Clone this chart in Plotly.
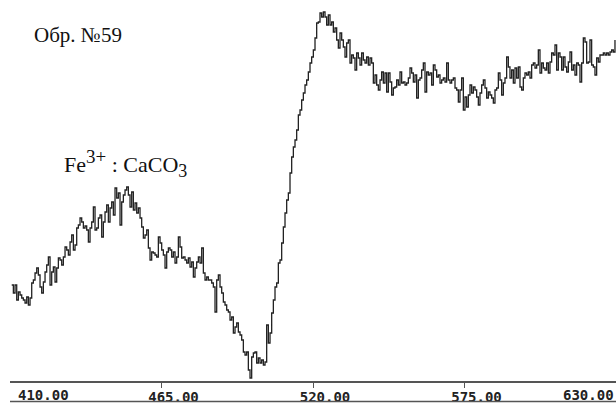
import plotly.graph_objects as go

# EPR-like spectrum, sample No.59 (Fe3+ : CaCO3); uniform field sampling
field_start = 410.62
field_step = 0.605
signal = [
    96, 88, 96, 81, 89, 86, 83, 81, 78, 84,
    76, 83, 98, 101, 108, 113, 106, 94, 88, 99,
    109, 116, 124, 96, 109, 114, 99, 113, 123, 121,
    116, 124, 134, 131, 126, 139, 146, 131, 136, 153,
    156, 163, 159, 153, 155, 151, 139, 153, 159, 174,
    151, 153, 163, 166, 144, 159, 169, 176, 159, 173,
    179, 166, 193, 183, 188, 156, 179, 186, 191, 194,
    186, 174, 189, 171, 178, 168, 173, 163, 154, 143,
    146, 151, 133, 121, 129, 128, 126, 124, 144, 138,
    131, 126, 113, 129, 133, 131, 124, 129, 118, 124,
    144, 134, 123, 124, 121, 118, 123, 114, 119, 104,
    113, 119, 124, 118, 133, 108, 101, 104, 101, 101,
    98, 94, 69, 101, 106, 94, 88, 79, 76, 71,
    69, 61, 64, 48, 54, 58, 49, 46, 41, 29,
    26, 29, 11, 3, 24, 28, 29, 18, 23, 18,
    21, 16, 19, 56, 38, 48, 68, 81, 94, 98,
    118, 121, 138, 154, 168, 181, 188, 208, 224, 234,
    241, 251, 266, 271, 281, 288, 296, 301, 309, 318,
    324, 331, 343, 358, 359, 368, 364, 369, 364, 356,
    366, 356, 359, 349, 353, 341, 333, 348, 341, 334,
    324, 338, 341, 318, 326, 323, 311, 328, 323, 316,
    328, 321, 318, 324, 316, 323, 318, 298, 306, 296,
    291, 301, 309, 298, 308, 289, 308, 299, 286, 293,
    294, 301, 296, 309, 298, 299, 296, 298, 303, 313,
    308, 299, 306, 283, 301, 303, 311, 318, 289, 309,
    306, 308, 296, 316, 311, 304, 306, 298, 301, 303,
    299, 318, 301, 298, 301, 303, 293, 291, 279, 291,
    303, 271, 284, 274, 286, 296, 288, 294, 291, 284,
    276, 288, 296, 301, 293, 283, 289, 286, 283, 278,
    291, 293, 308, 301, 286, 298, 303, 324, 314, 303,
    311, 298, 313, 303, 314, 294, 291, 303, 308, 306,
    309, 303, 316, 318, 313, 316, 331, 308, 318, 313,
    311, 318, 308, 319, 328, 326, 336, 311, 328, 324,
    311, 324, 314, 309, 319, 329, 311, 316, 306, 318,
    316, 299, 318, 343, 339, 318, 319, 341, 316, 314,
    306, 323, 319, 326, 326, 328, 326, 328, 326, 329,
    331, 329, 341,
]
field = [field_start + i * field_step for i in range(len(signal))]

tick_values = [465, 520, 575]
tick_labels = ["465.00", "520.00", "575.00"]
edge_labels = [(410, "410.00"), (630, "630.00")]

title_text = "Обр. №59"
compound_text = ('Fe<sup><span style="font-size:19px">3+</span></sup> : '
                 'CaCO<sub><span style="font-size:18px">3</span></sub>')

axis_color = "#555555"
line_color = "#222222"

fig = go.Figure()
fig.add_trace(go.Scatter(
    x=field, y=signal, mode="lines",
    line=dict(color=line_color, width=1.3, shape="hv"),
    showlegend=False, hoverinfo="skip",
))

tick_font = dict(family="DejaVu Sans Mono", size=14, color="#222222", weight="bold")

fig.update_layout(
    width=616, height=405,
    margin=dict(l=10, r=0, t=0, b=24),
    paper_bgcolor="white", plot_bgcolor="white",
    xaxis=dict(
        range=[410, 630], showgrid=False, zeroline=False,
        showline=True, linecolor=axis_color, linewidth=1.5,
        tickvals=tick_values, ticktext=tick_labels,
        ticks="outside", ticklen=5, tickwidth=1, tickcolor=axis_color,
        tickfont=tick_font, ticklabelshift=12, ticklabelstandoff=-3,
    ),
    yaxis=dict(range=[0, 381], visible=False),
)

for xv, txt in edge_labels:
    fig.add_annotation(
        x=xv, xref="x", y=(381 - 395) / 381, yref="paper",
        text=txt, showarrow=False, font=tick_font,
        xanchor="left" if xv == 410 else "right",
        xshift=6 if xv == 410 else 0, yanchor="middle",
    )

fig.add_annotation(
    x=(32 - 10) / 606, xref="paper", y=(381 - 35) / 381, yref="paper",
    text=title_text, showarrow=False, xanchor="left", yanchor="middle",
    font=dict(family="Liberation Serif", size=21, color="#111111"),
)
fig.add_annotation(
    x=(62 - 10) / 606, xref="paper", y=(381 - 163) / 381, yref="paper",
    text=compound_text, showarrow=False, xanchor="left", yanchor="middle",
    font=dict(family="Liberation Serif", size=22, color="#111111"),
)

fig.add_shape(
    type="line", xref="paper", yref="paper",
    x0=0, x1=1, y0=(381 - 401.5) / 381, y1=(381 - 401.5) / 381,
    line=dict(color=axis_color, width=1.5),
)

fig.write_html("out.html")
